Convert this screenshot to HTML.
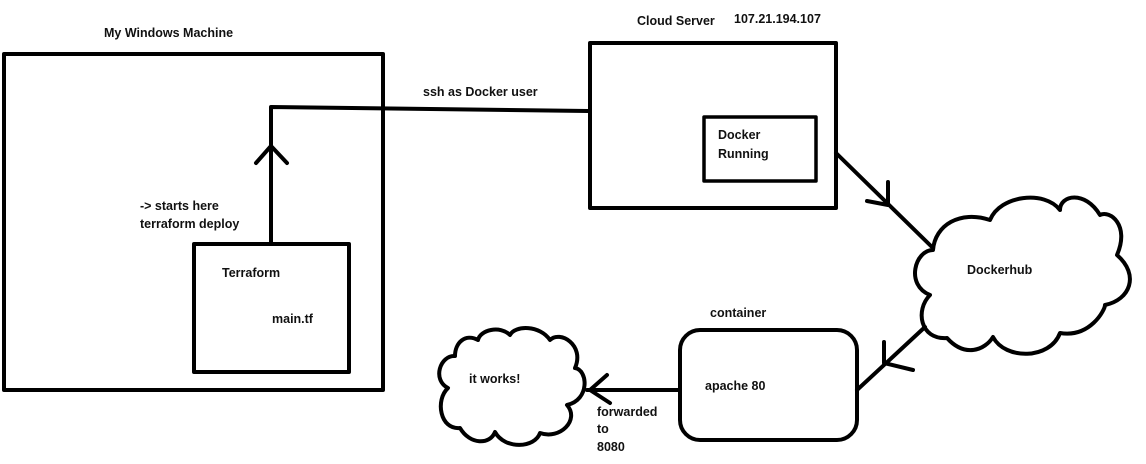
<!DOCTYPE html>
<html><head><meta charset="utf-8"><style>
html,body{margin:0;padding:0;background:#fff;}
svg{display:block;}
text{font-family:"Liberation Sans",sans-serif;font-size:12.5px;font-weight:bold;fill:#111;}
</style></head><body>
<svg width="1146" height="464" viewBox="0 0 1146 464" xmlns="http://www.w3.org/2000/svg">
<g fill="none" stroke="#000" stroke-width="4" stroke-linecap="round" stroke-linejoin="round">
<rect x="4" y="54" width="379" height="336"/>
<rect x="194" y="244" width="155" height="128"/>
<polyline points="271,243 271,107 588,111"/>
<polyline points="256,163 271,146 287,163"/>
<rect x="590" y="43" width="246" height="165"/>
<rect x="704" y="117" width="112" height="64" stroke-width="3.5"/>
<line x1="836" y1="153" x2="933" y2="248"/>
<polyline points="867,201 888,205 888,182"/>
<path d="M933,250 C915,250 905,285 930,295 C915,310 920,340 947,338 C965,358 985,350 993,337 C1005,360 1050,360 1060,333 C1090,338 1105,310 1105,305 C1130,300 1140,275 1117,255 C1130,225 1110,210 1100,215 C1085,190 1060,195 1060,210 C1045,190 1000,195 990,220 C960,210 935,225 933,250 Z"/>
<line x1="925" y1="327" x2="857" y2="390"/>
<polyline points="884,342 884,363 913,370"/>
<rect x="680" y="330" width="177" height="110" rx="20"/>
<line x1="679" y1="390" x2="587" y2="390"/>
<polyline points="607,375 590,390 610,403"/>
<path d="M455,356 C440,355 432,380 448,388 C435,400 440,430 460,428 C470,445 490,445 495,432 C505,450 535,448 540,433 C560,440 580,420 567,405 C590,400 588,370 575,368 C585,345 560,330 550,340 C540,325 515,325 510,335 C500,325 480,330 478,340 C465,333 455,343 455,356 Z"/>
</g>
<text x="104" y="37">My Windows Machine</text>
<text x="637" y="25">Cloud Server</text>
<text x="734" y="23">107.21.194.107</text>
<text x="423" y="96">ssh as Docker user</text>
<text x="718" y="139">Docker</text>
<text x="718" y="158">Running</text>
<text x="140" y="210">-&gt; starts here</text>
<text x="140" y="228">terraform deploy</text>
<text x="222" y="277">Terraform</text>
<text x="272" y="323">main.tf</text>
<text x="967" y="274">Dockerhub</text>
<text x="710" y="317">container</text>
<text x="705" y="390">apache 80</text>
<text x="469" y="383">it works!</text>
<text x="597" y="416">forwarded</text>
<text x="597" y="433">to</text>
<text x="597" y="451">8080</text>
</svg>
</body></html>
